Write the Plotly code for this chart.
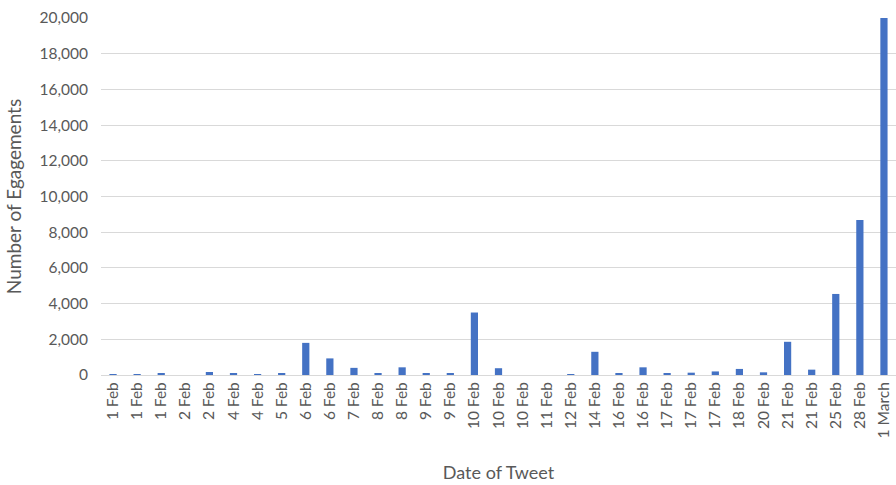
import plotly.graph_objects as go

# Tweet dates (several tweets can share the same day)
dates = ["1 Feb", "1 Feb", "1 Feb", "2 Feb", "2 Feb", "4 Feb", "4 Feb", "5 Feb",
         "6 Feb", "6 Feb", "7 Feb", "8 Feb", "8 Feb", "9 Feb", "9 Feb",
         "10 Feb", "10 Feb", "10 Feb", "11 Feb", "12 Feb", "14 Feb", "16 Feb",
         "16 Feb", "17 Feb", "17 Feb", "17 Feb", "18 Feb", "20 Feb", "21 Feb",
         "21 Feb", "25 Feb", "28 Feb", "1 March"]

engagements = [30, 20, 110, 0, 170, 90, 40, 70,
               1800, 930, 400, 60, 430, 60, 60,
               3500, 380, 0, 0, 30, 1300, 100,
               430, 100, 130, 200, 340, 150, 1860,
               300, 4540, 8680, 20000]

y_ticks = list(range(0, 20001, 2000))

positions = list(range(len(dates)))

fig = go.Figure(
    go.Bar(
        x=positions,
        y=engagements,
        marker=dict(color="#4472C4", line=dict(width=0)),
    )
)

font_family = "Lato, Carlito, 'Open Sans', sans-serif"
tick_color = "#595959"

fig.update_layout(
    width=896,
    height=485,
    margin=dict(l=101, r=0, t=18, b=110),
    paper_bgcolor="white",
    plot_bgcolor="white",
    bargap=0.7,
    showlegend=False,
    font=dict(family=font_family, color=tick_color, size=15),
)

fig.update_xaxes(
    tickmode="array",
    tickvals=positions,
    ticktext=dates,
    tickangle=-90,
    range=[-0.5, len(dates) - 0.5],
    showgrid=False,
    showline=True,
    linecolor="#d9d9d9",
    linewidth=1,
    ticks="",
    automargin=False,
    tickfont=dict(size=15.5, color=tick_color),
    title=dict(text="Date of Tweet", font=dict(size=18, color=tick_color), standoff=28),
)

fig.update_yaxes(
    range=[0, 20000],
    tickmode="array",
    tickvals=y_ticks,
    ticktext=[f"{v:,}" for v in y_ticks],
    showgrid=True,
    gridcolor="#d9d9d9",
    gridwidth=1,
    zeroline=False,
    showline=False,
    ticks="",
    ticklabelstandoff=12,
    automargin=False,
    tickfont=dict(size=15.5, color=tick_color),
    title=dict(text="Number of Egagements", font=dict(size=19, color=tick_color), standoff=12),
)

fig.write_html("out.html")
